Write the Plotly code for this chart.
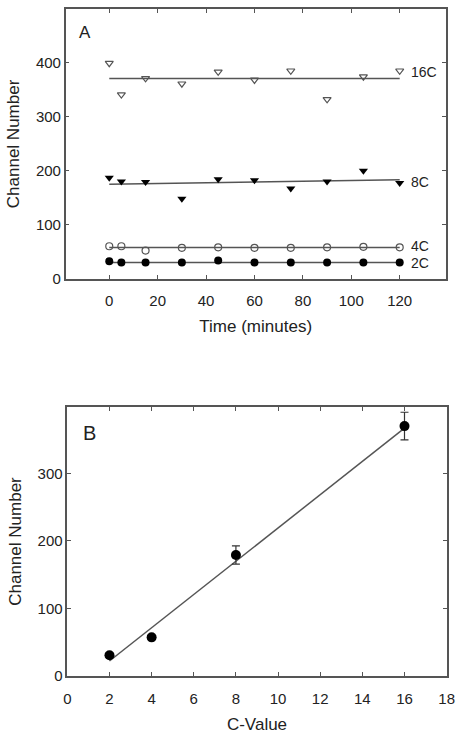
import plotly.graph_objects as go

# Panel A data
time_min = [0, 5, 15, 30, 45, 60, 75, 90, 105, 120]
c16 = [399, 341, 371, 361, 383, 368, 385, 332, 374, 385]
c8 = [187, 180, 179, 148, 184, 182, 167, 180, 200, 177]
c4 = [60, 60, 52, 57, 58, 57, 57, 58, 59, 58]
c2 = [32, 30, 30, 30, 33.5, 30, 30, 30, 30, 30]
series_labels = ["16C", "8C", "4C", "2C"]
label_y = [382, 179, 60, 29]
# fitted lines (value at t=0, value at t=120)
fit_start = [370.5, 175, 57.5, 30]
fit_end = [370.5, 183, 57.5, 30]
fit_t = [0, 120]

# Panel B data
c_value = [2, 4, 8, 16]
channel_mean = [30.5, 57, 179, 370]
channel_err = [3, 3, 13.5, 20.5]
fit_slope = 24.64
fit_intercept = -27.3
fit_c = [2, 16]

AX = "#555555"
TXT = "#222222"
FONT = "Liberation Sans, Arial, sans-serif"

fig = go.Figure()

# Panel A fits
for s, e in zip(fit_start, fit_end):
    fig.add_trace(go.Scatter(x=fit_t, y=[s, e], mode="lines",
                             line=dict(color="#555555", width=1.5),
                             xaxis="x", yaxis="y", showlegend=False, hoverinfo="skip"))

marker_styles = [
    dict(symbol="triangle-down-open", size=7, color="#555555", line=dict(width=1.2, color="#555555")),
    dict(symbol="triangle-down", size=8, color="black"),
    dict(symbol="circle-open", size=7, color="#555555", line=dict(width=1.2, color="#555555")),
    dict(symbol="circle", size=8, color="black"),
]
for vals, ms in zip([c16, c8, c4, c2], marker_styles):
    fig.add_trace(go.Scatter(x=time_min, y=vals, mode="markers", marker=ms,
                             xaxis="x", yaxis="y", showlegend=False))

# series labels
for lab, ly in zip(series_labels, label_y):
    fig.add_annotation(x=124, y=ly, xref="x", yref="y", text=lab, showarrow=False,
                       xanchor="left", yanchor="middle",
                       font=dict(size=14, color=TXT, family=FONT))

fig.add_annotation(x=-10, y=455, xref="x", yref="y", text="A", showarrow=False,
                   xanchor="center", yanchor="middle", font=dict(size=17, color=TXT, family=FONT))

# Panel B
fig.add_trace(go.Scatter(x=fit_c, y=[fit_slope * c + fit_intercept for c in fit_c], mode="lines",
                         line=dict(color="#555555", width=1.5),
                         xaxis="x2", yaxis="y2", showlegend=False, hoverinfo="skip"))
fig.add_trace(go.Scatter(x=c_value, y=channel_mean, mode="markers",
                         marker=dict(symbol="circle", size=10, color="black"),
                         error_y=dict(type="data", array=channel_err, visible=True,
                                      color="#333333", thickness=1.2, width=4),
                         xaxis="x2", yaxis="y2", showlegend=False))
fig.add_annotation(x=1.06, y=360, xref="x2", yref="y2", text="B", showarrow=False,
                   xanchor="center", yanchor="middle", font=dict(size=20, color=TXT, family=FONT))

axis_common = dict(showline=True, linecolor=AX, linewidth=1.5, mirror="allticks",
                   ticks="inside", ticklen=4, tickcolor=AX, tickwidth=1.2,
                   showgrid=False, zeroline=False,
                   tickfont=dict(size=15, color=TXT, family=FONT))
title_font = dict(size=17, color=TXT, family=FONT)

fig.update_layout(
    width=468, height=734,
    margin=dict(l=0, r=0, t=0, b=0),
    paper_bgcolor="white", plot_bgcolor="white",
    font=dict(family=FONT, color=TXT),
    xaxis=dict(domain=[0.1353, 0.9686], range=[-18, 139], tickvals=[0, 20, 40, 60, 80, 100, 120],
               anchor="y", ticklabelstandoff=8,
               title=dict(text="Time (minutes)", font=title_font, standoff=12),
               **axis_common),
    yaxis=dict(domain=[0.6162, 0.9873], range=[0, 499], tickvals=[0, 100, 200, 300, 400],
               anchor="x",
               title=dict(text="Channel Number", font=title_font, standoff=12),
               **axis_common),
    xaxis2=dict(domain=[0.1389, 0.9707], range=[0, 18], tickvals=list(range(0, 19, 2)),
                anchor="y2", ticklabelstandoff=8,
                title=dict(text="C-Value", font=title_font, standoff=14),
                **axis_common),
    yaxis2=dict(domain=[0.0691, 0.4391], range=[0, 398], tickvals=[0, 100, 200, 300],
                anchor="x2",
                title=dict(text="Channel Number", font=title_font, standoff=12),
                **axis_common),
)

fig.write_html("out.html")
